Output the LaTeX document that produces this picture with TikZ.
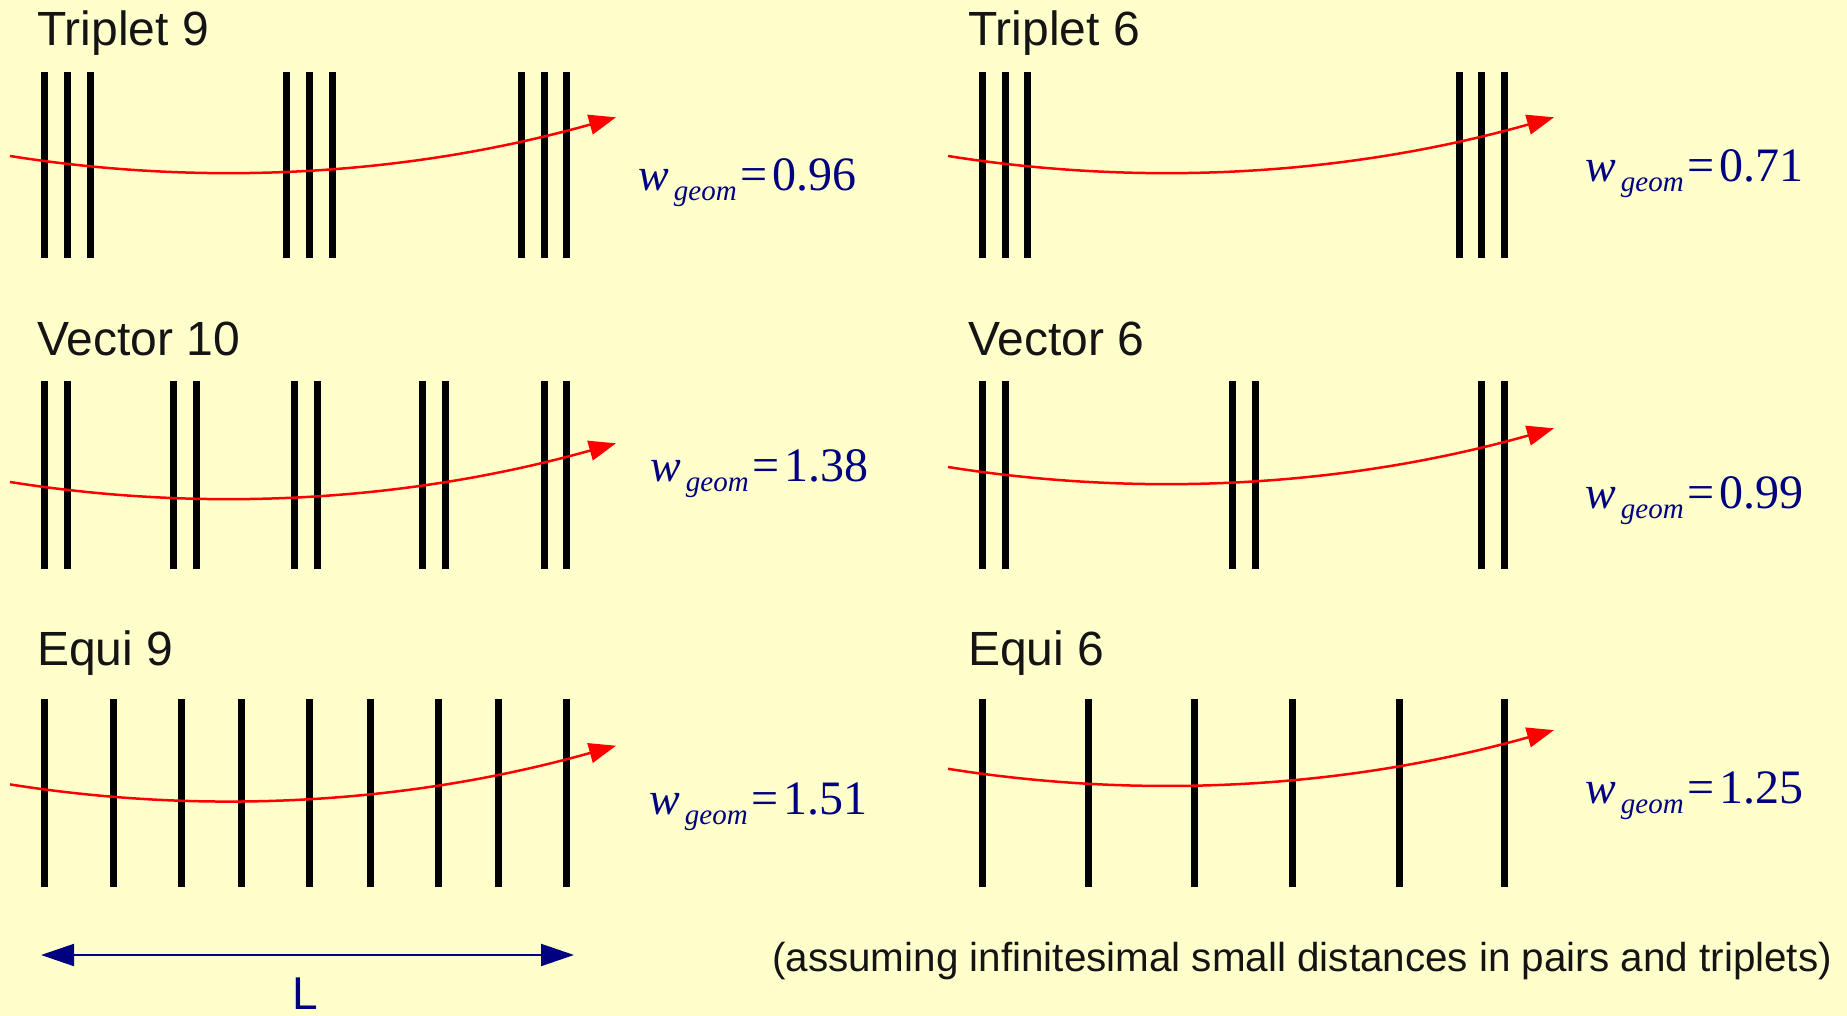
\documentclass[tikz,border=0pt]{standalone}
\usepackage{fontspec}
\setmainfont{Liberation Sans}
\newfontfamily\timesf{Liberation Serif}
\usetikzlibrary{arrows.meta}
\definecolor{bgyel}{RGB}{255,255,204}
\definecolor{navyb}{RGB}{0,0,128}
\definecolor{inkk}{RGB}{20,20,20}
\tikzset{
  plate/.style={line width=7pt, black},
  track/.style={red, line width=2.5pt, -{Triangle[length=27pt,width=20pt]}},
  title/.style={anchor=base west, inner sep=0pt, text=inkk, font=\fontsize{48}{50}\selectfont},
  wlabel/.style={anchor=base west, inner sep=0pt, text=navyb, font=\fontsize{46}{50}\selectfont\timesf},
  note/.style={anchor=base west, inner sep=0pt, text=inkk, font=\fontsize{40.4}{44}\selectfont},
  lenarrow/.style={navyb, line width=2pt, {Triangle[length=33pt,width=22pt]}-{Triangle[length=33pt,width=22pt]}}
}
\newcommand{\wgeomlab}[1]{\textit{w}\hspace{5pt}\raisebox{-10pt}{\fontsize{29}{30}\selectfont\textit{geom}}\hspace{4pt}{\fontsize{48}{50}\selectfont =\hspace{5pt}#1}}
\begin{document}
\begin{tikzpicture}[x=1pt,y=-1pt]
\fill[bgyel] (0,0) rectangle (1847,1016);
\useasboundingbox (0,0) rectangle (1847,1016);

% ---------- Triplet 9 ----------
\node[title] (tT9) at (37,46) {Triplet 9};
\foreach \x in {44.8,67.6,90.4,286.9,309.7,332.5,521.6,544.4,566.7}
  \draw[plate] (\x,71.7) -- (\x,258.3);
\coordinate (t9s) at (10,156);
\coordinate (t9e) at (616,117.3);
\draw[track] (t9s) .. controls (212,188) and (414,174) .. (t9e);
\node[wlabel] (wT9) at (638,191) {\wgeomlab{0.96}};

% ---------- Vector 10 ----------
\node[title] (tV10) at (37,355) {Vector 10};
\foreach \x in {44.8,67.6,173.3,196.1,294.4,317.2,422.9,445.7,544,566.7}
  \draw[plate] (\x,381) -- (\x,569);
\coordinate (v10s) at (10,482);
\coordinate (v10e) at (616,443.3);
\draw[track] (v10s) .. controls (212,514) and (414,500) .. (v10e);
\node[wlabel] (wV10) at (650,481) {\wgeomlab{1.38}};

% ---------- Equi 9 ----------
\node[title] (tE9) at (37,665) {Equi 9};
\foreach \x in {44.8,113.2,181.2,241.3,309.7,370.2,438.2,498.8,566.7}
  \draw[plate] (\x,699) -- (\x,886.7);
\coordinate (e9s) at (10,784.4);
\coordinate (e9e) at (616,745.7);
\draw[track] (e9s) .. controls (212,816.4) and (414,802.4) .. (e9e);
\node[wlabel] (wE9) at (649,814) {\wgeomlab{1.51}};

% ---------- Triplet 6 ----------
\node[title] (tT6) at (968,46) {Triplet 6};
\foreach \x in {982.3,1005.1,1027.9,1459,1481.9,1504.7}
  \draw[plate] (\x,71.7) -- (\x,258.3);
\coordinate (t6s) at (948,156);
\coordinate (t6e) at (1554,117.3);
\draw[track] (t6s) .. controls (1150,188) and (1352,174) .. (t6e);
\node[wlabel] (wT6) at (1585,182) {\wgeomlab{0.71}};

% ---------- Vector 6 ----------
\node[title] (tV6) at (968,355) {Vector 6};
\foreach \x in {982.3,1005.1,1232.3,1255.1,1481.9,1504.7}
  \draw[plate] (\x,381) -- (\x,569);
\coordinate (v6s) at (948,467);
\coordinate (v6e) at (1554,428.3);
\draw[track] (v6s) .. controls (1150,499) and (1352,485) .. (v6e);
\node[wlabel] (wV6) at (1585,508) {\wgeomlab{0.99}};

% ---------- Equi 6 ----------
\node[title] (tE6) at (968,665) {Equi 6};
\foreach \x in {982.3,1088.4,1194.1,1292.8,1399,1504.7}
  \draw[plate] (\x,699.3) -- (\x,886.7);
\coordinate (e6s) at (948,768.8);
\coordinate (e6e) at (1554,730.1);
\draw[track] (e6s) .. controls (1150,800.8) and (1352,786.8) .. (e6e);
\node[wlabel] (wE6) at (1585,803) {\wgeomlab{1.25}};

% ---------- length L ----------
\coordinate (La) at (41,955);
\coordinate (Lb) at (574,955);
\draw[lenarrow] (La) -- (Lb);
\node[anchor=base, inner sep=0pt, text=navyb, font=\fontsize{46}{50}\selectfont] (Ltxt) at (305,1009) {L};

% ---------- note ----------
\node[note] (nt) at (772,971) {(assuming infinitesimal small distances in pairs and triplets)};
\end{tikzpicture}
\end{document}
